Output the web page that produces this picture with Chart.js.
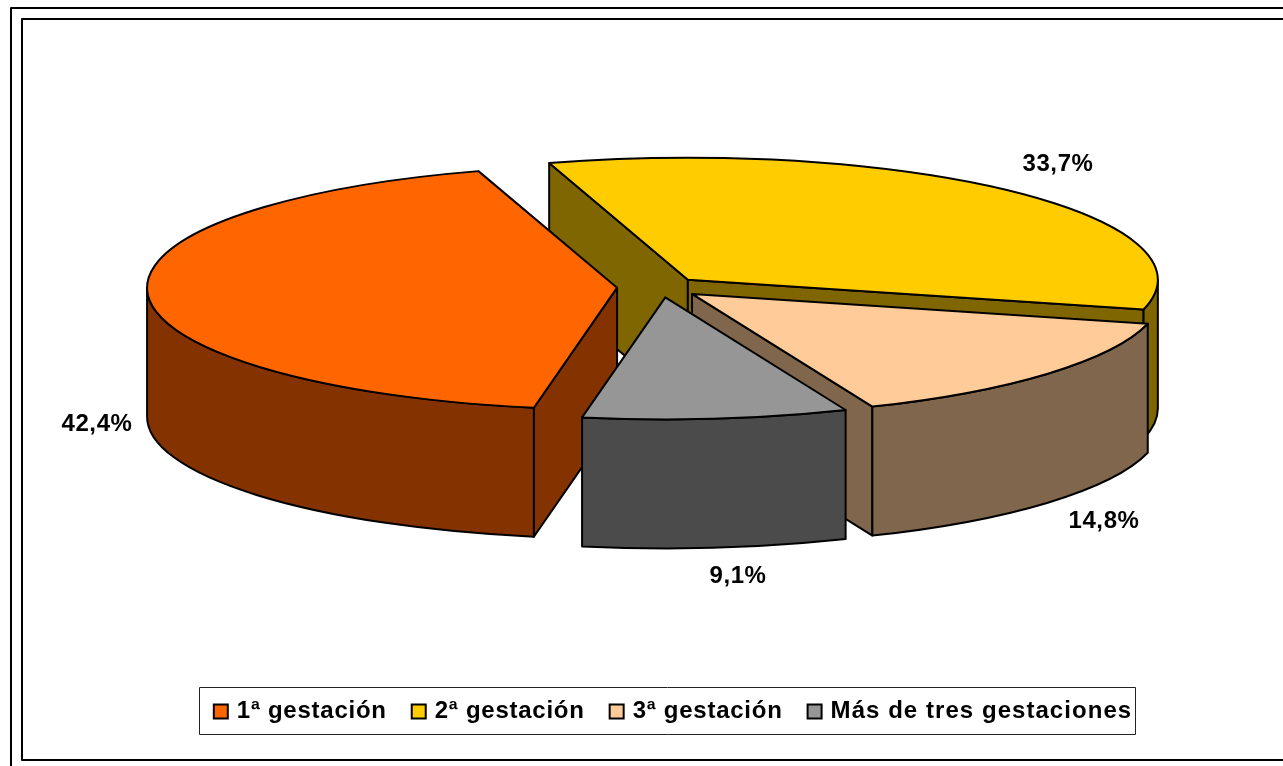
<!DOCTYPE html>
<html>
<head>
<meta charset="utf-8">
<style>html,body{margin:0;padding:0;background:#fff;overflow:hidden}canvas{display:block}</style>
<script src="https://cdn.jsdelivr.net/npm/chart.js@4/dist/chart.umd.js"></script>
</head>
<body>
<canvas id="c" width="1283" height="766"></canvas>
<script>
const categories = ['1ª gestación', '2ª gestación', '3ª gestación', 'Más de tres gestaciones'];
const values = [42.4, 33.7, 14.8, 9.1];
const topColors = ['#FF6600', '#FFCC00', '#FFCC99', '#969696'];
const sideColors = ['#843200', '#806600', '#80664D', '#4B4B4B'];
const explode = [44, 39, 41, 40];
const labelCenters = [[97, 424], [1058, 164], [1104, 521], [738, 576]];

const GEO = { cx: 661, cy: 287, rx: 470, ry: 122, depth: 129, rotation: -169.8 };
const FONT = '"Liberation Sans", Arial, sans-serif';
const TAU = Math.PI * 2;

class Pie3DController extends Chart.PieController {
  static id = 'pie3d';
  draw() {
    const ctx = this.chart.ctx;
    const arcs = this.getMeta().data;
    const G = GEO;
    const centre = (arc, i) => {
      const m = (arc.startAngle + arc.endAngle) / 2;
      return { x: G.cx + explode[i] * Math.cos(m),
               y: G.cy + explode[i] * (G.ry / G.rx) * Math.sin(m) };
    };
    const pt = (c, a, dz) => ({ x: c.x + G.rx * Math.cos(a), y: c.y + dz + G.ry * Math.sin(a) });
    const finish = (fill) => {
      ctx.closePath();
      ctx.fillStyle = fill; ctx.fill();
      ctx.strokeStyle = '#000'; ctx.lineWidth = 2; ctx.lineJoin = 'round'; ctx.stroke();
    };
    const cut = (c, a, fill) => {
      const e = pt(c, a, 0);
      ctx.beginPath();
      ctx.moveTo(c.x, c.y); ctx.lineTo(e.x, e.y);
      ctx.lineTo(e.x, e.y + G.depth); ctx.lineTo(c.x, c.y + G.depth);
      finish(fill);
    };
    const rim = (c, s, e, fill) => {
      let s0 = ((s % TAU) + TAU) % TAU, e0 = s0 + (e - s);
      for (let k = 0; k < 2; k++) {
        const lo = Math.max(s0, TAU * k), hi = Math.min(e0, TAU * k + Math.PI);
        if (hi <= lo) continue;
        ctx.beginPath();
        ctx.ellipse(c.x, c.y, G.rx, G.ry, 0, lo, hi);
        ctx.ellipse(c.x, c.y + G.depth, G.rx, G.ry, 0, hi, lo, true);
        finish(fill);
      }
    };
    [1, 0, 2, 3].forEach(i => {
      const arc = arcs[i], c = centre(arc, i);
      if (Math.cos(arc.startAngle) < 0) cut(c, arc.startAngle, sideColors[i]);
      if (Math.cos(arc.endAngle) > 0) cut(c, arc.endAngle, sideColors[i]);
      rim(c, arc.startAngle, arc.endAngle, sideColors[i]);
    });
    arcs.forEach((arc, i) => {
      const c = centre(arc, i), R = arc.outerRadius;
      ctx.save();
      ctx.translate(c.x, c.y);
      ctx.scale(G.rx / R, G.ry / R);
      ctx.translate(-arc.x, -arc.y);
      arc.draw(ctx);
      ctx.restore();
      ctx.beginPath();
      ctx.moveTo(c.x, c.y);
      ctx.ellipse(c.x, c.y, G.rx, G.ry, 0, arc.startAngle, arc.endAngle);
      ctx.closePath();
      ctx.strokeStyle = '#000'; ctx.lineWidth = 2; ctx.lineJoin = 'round'; ctx.stroke();
    });
  }
}
Chart.register(Pie3DController);

const canvas = document.getElementById('c');
const ctx2d = canvas.getContext('2d');

// per-label tracking for the legend text, as the reference spaces its glyphs unevenly
const legendTracking = { '1ª gestación': '0.75px', '2ª gestación': '0.75px', '3ª gestación': '0.75px', 'Más de tres gestaciones': '1.05px' };
const legendTextShift = -3;
const measure0 = ctx2d.measureText.bind(ctx2d), fill0 = ctx2d.fillText.bind(ctx2d);
ctx2d.measureText = t => {
  const old = ctx2d.letterSpacing;
  if (legendTracking[t]) ctx2d.letterSpacing = legendTracking[t];
  const m = measure0(t);
  ctx2d.letterSpacing = old;
  return m;
};
ctx2d.fillText = (t, x, y) => {
  const old = ctx2d.letterSpacing;
  let dx = 0;
  if (legendTracking[t]) { ctx2d.letterSpacing = legendTracking[t]; dx = legendTextShift; }
  fill0(t, x + dx, y);
  ctx2d.letterSpacing = old;
};

const framePlugin = {
  id: 'frame',
  afterDraw(chart) {
    const ctx = chart.ctx;
    ctx.save();
    ctx.strokeStyle = '#000';
    ctx.lineWidth = 2;
    ctx.strokeRect(11, 8, 1320, 800);
    ctx.strokeRect(22, 19, 1320, 741);
    ctx.lineWidth = 1;
    ctx.strokeStyle = '#222';
    ctx.strokeRect(199.5, 687.5, 936, 47);
    ctx.fillStyle = '#000';
    ctx.font = 'bold 24px ' + FONT;
    ctx.letterSpacing = '0.6px';
    ctx.textAlign = 'center';
    ctx.textBaseline = 'middle';
    values.forEach((v, i) => {
      ctx.fillText(v.toFixed(1).replace('.', ',') + '%', labelCenters[i][0], labelCenters[i][1]);
    });
    ctx.restore();
  }
};

new Chart(ctx2d, {
  type: 'pie3d',
  data: {
    labels: categories,
    datasets: [{ data: values, backgroundColor: topColors, borderWidth: 0, offset: 0 }]
  },
  options: {
    responsive: false,
    animation: false,
    rotation: GEO.rotation,
    layout: { padding: { left: 66, right: 0, top: 0, bottom: 32.5 } },
    plugins: {
      tooltip: { enabled: false },
      legend: {
        display: true,
        position: 'bottom',
        labels: {
          font: { family: FONT, size: 24, weight: 'bold' },
          color: '#000',
          boxWidth: 14,
          boxHeight: 14,
          padding: 22,
          generateLabels: chart => chart.data.labels.map((text, i) => ({
            text, index: i, fillStyle: topColors[i], strokeStyle: '#000', lineWidth: 2, fontColor: '#000', hidden: false
          }))
        }
      }
    }
  },
  plugins: [framePlugin]
});
</script>
</body>
</html>
